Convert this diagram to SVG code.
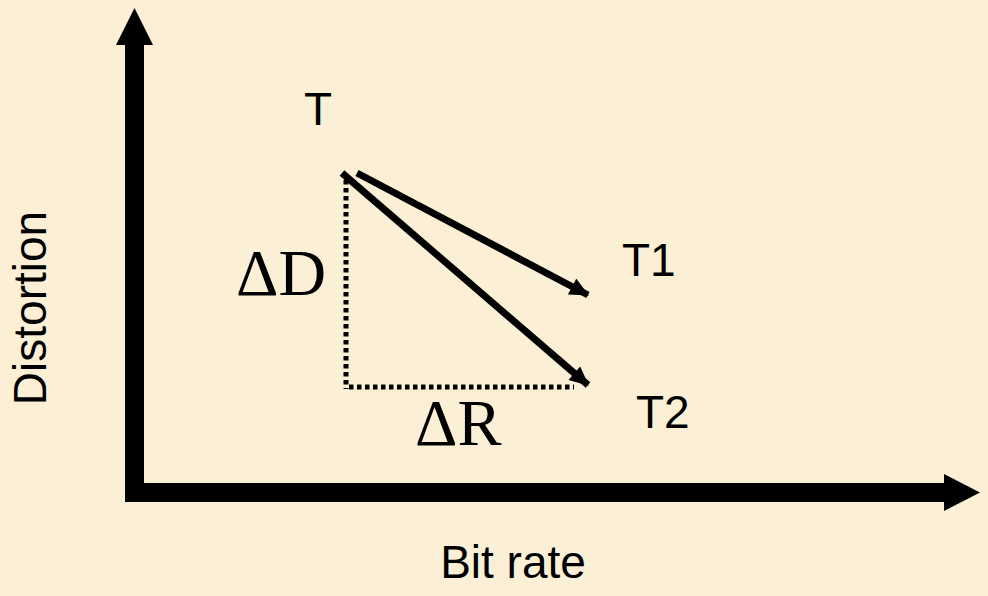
<svg xmlns="http://www.w3.org/2000/svg" width="988" height="596" viewBox="0 0 988 596">
<style>
.sans{font-family:"Liberation Sans",Arial,sans-serif;font-size:46px;fill:#000}
.serif{font-family:"Liberation Serif","Times New Roman",serif;font-size:66px;fill:#000}
.dot{stroke:#000;stroke-width:5;stroke-dasharray:4.5 3.5;fill:none}
.arr{stroke:#000;stroke-width:7;fill:none;marker-end:url(#ah)}
</style>
<defs>
<marker id="ah" markerUnits="userSpaceOnUse" markerWidth="20" markerHeight="18" refX="16" refY="8" orient="auto" viewBox="0 0 17 16">
<path d="M0,0 L17,8 L0,16 Z" fill="#000"/>
</marker>
</defs>
<rect width="988" height="596" fill="#FBF0D5"/>
<g id="axes">
<rect x="125" y="44" width="19" height="458" fill="#000"/>
<polygon points="116,45 134.5,8 153,45" fill="#000"/>
<rect x="125" y="483" width="820" height="19" fill="#000"/>
<polygon points="944,474 980,492.5 944,511" fill="#000"/>
</g>
<g id="connectors">
<line class="dot" x1="346" y1="180" x2="346" y2="389"/>
<line class="dot" x1="349" y1="387" x2="574" y2="387"/>
<line class="arr" x1="357" y1="173" x2="588" y2="295"/>
<line class="arr" x1="342" y1="173" x2="588" y2="385"/>
</g>
<g id="node-T"><text class="sans" x="304" y="125">T</text></g>
<g id="node-T1"><text class="sans" x="622" y="276">T1</text></g>
<g id="node-T2"><text class="sans" x="636" y="428">T2</text></g>
<g id="label-dD"><text class="serif" x="236" y="295">ΔD</text></g>
<g id="label-dR"><text class="serif" x="415" y="445">ΔR</text></g>
<g id="label-x"><text class="sans" x="513" y="578" text-anchor="middle">Bit rate</text></g>
<g id="label-y"><text class="sans" transform="translate(46,308) rotate(-90)" text-anchor="middle">Distortion</text></g>
</svg>
